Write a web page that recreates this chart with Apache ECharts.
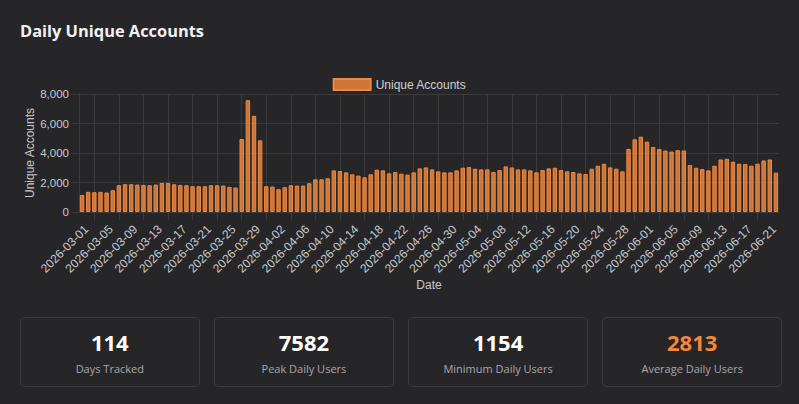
<!DOCTYPE html>
<html>
<head>
<meta charset="utf-8">
<title>Daily Unique Accounts</title>
<script src="https://cdn.jsdelivr.net/npm/echarts@6/dist/echarts.min.js"></script>
<style>
    html, body { margin: 0; padding: 0; background: #262628; }
    body { width: 799px; height: 404px; position: relative; overflow: hidden; font-family: "Open Sans", "Noto Sans", sans-serif; }
    #chart { position: absolute; left: 0; top: 0; width: 799px; height: 404px; }
    h1 { position: absolute; left: 20px; top: 18px; margin: 0; font-size: 16.4px; font-weight: 700; color: #f2f2f2; line-height: 26px; }
    .cards { position: absolute; left: 20px; top: 317px; width: 762px; display: flex; gap: 14.5px; }
    .card { flex: 1; height: 70px; box-sizing: border-box; border: 1px solid #3c3c3f; border-radius: 5px; text-align: center; }
    .card .num { margin-top: 9px; font-size: 22px; font-weight: 700; color: #ffffff; line-height: 30px; }
    .card .num.accent { color: #f5873a; }
    .card .lbl { margin-top: 4px; font-size: 11px; color: #a8a8ab; line-height: 16px; }
</style>
</head>
<body>
<div id="chart"></div>
<h1>Daily Unique Accounts</h1>
<div class="cards" id="cards"></div>
<script>
// --- 数据 ---
const startDate = '2026-03-01';
const dayCount = 114;

const uniqueAccounts = [
    1154, 1366, 1344, 1366, 1322, 1478, 1814, 1882, 1882, 1859,
    1837, 1814, 1859, 1971, 1971, 1882, 1837, 1814, 1747, 1747,
    1747, 1814, 1814, 1792, 1702, 1658, 4950, 7582, 6518, 4861,
    1747, 1725, 1546, 1680, 1814, 1792, 1792, 1949, 2218, 2218,
    2285, 2822, 2778, 2688, 2554, 2464, 2352, 2554, 2867, 2822,
    2621, 2710, 2598, 2531, 2688, 2957, 3024, 2890, 2755, 2688,
    2688, 2822, 3002, 3046, 2934, 2890, 2890, 2710, 2845, 3091,
    3024, 2890, 2890, 2822, 2688, 2845, 2957, 3002, 2845, 2755,
    2710, 2621, 2576, 2934, 3136, 3270, 3024, 2934, 2755, 4278,
    4928, 5107, 4771, 4413, 4278, 4166, 4099, 4189, 4166, 3181,
    3002, 2912, 2822, 3136, 3562, 3606, 3405, 3270, 3248, 3136,
    3270, 3494, 3562, 2666
];

const statLabels = ['Days Tracked', 'Peak Daily Users', 'Minimum Daily Users', 'Average Daily Users'];
const statValues = [114, 7582, 1154, 2813];

const yTicks = [0, 2000, 4000, 6000, 8000];

// 日期类目
const dates = [];
const d0 = new Date(startDate + 'T00:00:00Z');
for (let i = 0; i < dayCount; i++) {
    const d = new Date(d0.getTime() + i * 86400000);
    dates.push(d.toISOString().slice(0, 10));
}

// --- 统计卡片 ---
const cardsEl = document.getElementById('cards');
statLabels.forEach((label, i) => {
    const card = document.createElement('div');
    card.className = 'card';
    card.innerHTML = '<div class="num' + (i === 3 ? ' accent' : '') + '">' + statValues[i] +
        '</div><div class="lbl">' + label + '</div>';
    cardsEl.appendChild(card);
});

// --- 柱状图 ---
const gridColor = '#3b3b3e';
const textColor = '#c8c8ca';
const axisFont = '"Liberation Sans", Arial, sans-serif';
const showEvery4 = (i) => i % 4 === 2;

const chart = echarts.init(document.getElementById('chart'), null, { renderer: 'svg' });

chart.setOption({
    animation: false,
    textStyle: { fontFamily: axisFont },
    legend: {
        top: 73,
        left: 'center',
        icon: 'rect',
        itemWidth: 37,
        itemHeight: 11,
        textStyle: { color: '#d0d0d2', fontSize: 12, fontFamily: axisFont },
        data: ['Unique Accounts']
    },
    grid: { left: 79, right: 20, top: 94, bottom: 192 },
    xAxis: {
        type: 'category',
        data: dates,
        boundaryGap: true,
        name: 'Date',
        nameLocation: 'middle',
        nameGap: 67,
        nameMoveOverlap: false,
        nameTextStyle: { color: textColor, fontSize: 12, fontFamily: axisFont },
        axisLine: { show: true, lineStyle: { color: gridColor } },
        axisTick: { show: true, alignWithLabel: true, interval: showEvery4, length: 8, lineStyle: { color: gridColor } },
        axisLabel: {
            interval: 3, rotate: 45, align: 'right', verticalAlign: 'top',
            color: textColor, fontSize: 12, margin: 11, fontFamily: axisFont
        },
        splitLine: { show: true, alignWithLabel: true, interval: showEvery4, lineStyle: { color: gridColor } }
    },
    yAxis: {
        type: 'value',
        min: yTicks[0],
        max: yTicks[yTicks.length - 1],
        interval: yTicks[1] - yTicks[0],
        name: 'Unique Accounts',
        nameLocation: 'middle',
        nameRotate: 90,
        nameGap: 43,
        nameMoveOverlap: false,
        nameTextStyle: { color: textColor, fontSize: 12, fontFamily: axisFont },
        axisLine: { show: true, lineStyle: { color: gridColor } },
        axisTick: { show: true, length: 8, lineStyle: { color: gridColor } },
        axisLabel: {
            color: textColor,
            fontSize: 11.5,
            margin: 10,
            fontFamily: axisFont,
            formatter: (v) => v.toLocaleString('en-US')
        },
        splitLine: { show: true, lineStyle: { color: gridColor } }
    },
    series: [{
        name: 'Unique Accounts',
        type: 'bar',
        data: uniqueAccounts,
        barWidth: '72%',
        itemStyle: {
            color: 'rgba(240, 136, 62, 0.82)',
            borderColor: '#f0883e',
            borderWidth: 1
        }
    }]
});

window.addEventListener('resize', function () {
    chart.resize();
});
</script>
</body>
</html>
